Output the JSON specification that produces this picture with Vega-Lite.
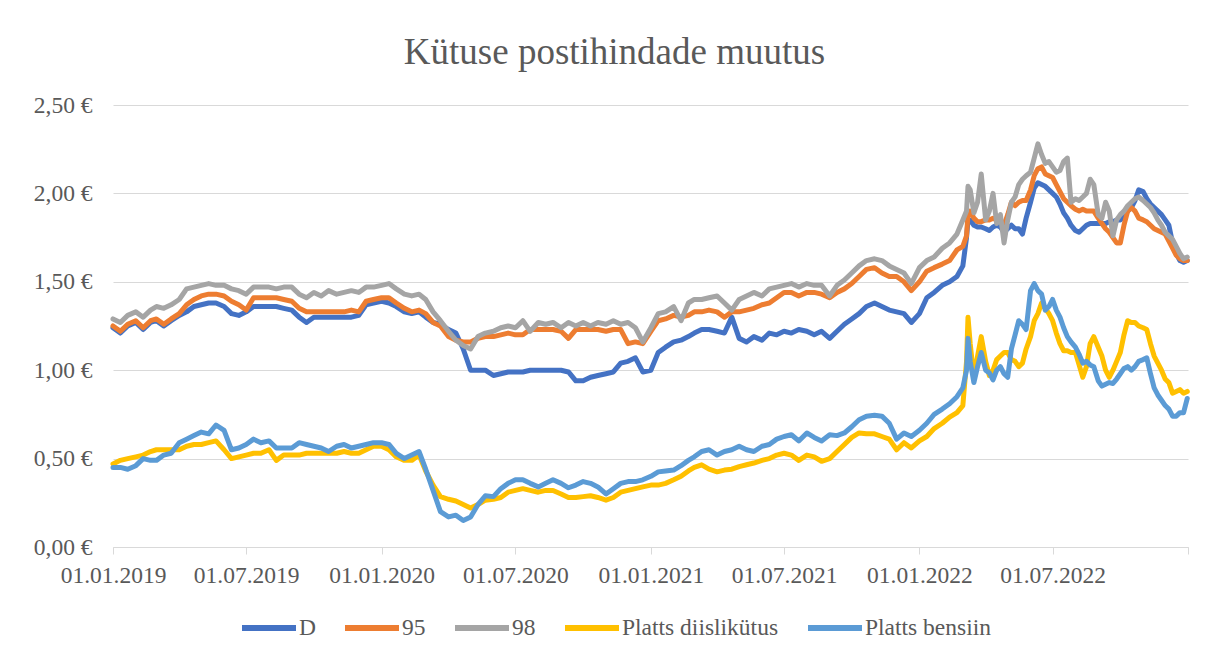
{
"$schema": "https://vega.github.io/schema/vega-lite/v6.json",
"width": 1075, "height": 442,
"autosize": {"type": "none"},
"padding": {"left": 113, "top": 105, "right": 20, "bottom": 110},
"background": "white",
"title": {"text": "Kütuse postihindade muutus", "font": "Liberation Serif", "fontSize": 37, "fontWeight": "normal", "color": "#595959", "anchor": "middle", "frame": "group", "dx": -36, "offset": 21},
"data": {"values": [
{"d":"2019-01-01","D":1.24,"p95":1.25,"p98":1.29,"PD":0.47,"PB":0.45},
{"d":"2019-01-11","D":1.21,"p95":1.22,"p98":1.27,"PD":0.49,"PB":0.45},
{"d":"2019-01-21","D":1.25,"p95":1.26,"p98":1.31,"PD":0.50,"PB":0.44},
{"d":"2019-02-01","D":1.27,"p95":1.28,"p98":1.33,"PD":0.51,"PB":0.46},
{"d":"2019-02-11","D":1.23,"p95":1.24,"p98":1.30,"PD":0.52,"PB":0.50},
{"d":"2019-02-21","D":1.27,"p95":1.28,"p98":1.34,"PD":0.54,"PB":0.49},
{"d":"2019-03-01","D":1.28,"p95":1.29,"p98":1.36,"PD":0.55,"PB":0.49},
{"d":"2019-03-11","D":1.25,"p95":1.26,"p98":1.35,"PD":0.55,"PB":0.52},
{"d":"2019-03-21","D":1.28,"p95":1.29,"p98":1.37,"PD":0.55,"PB":0.53},
{"d":"2019-04-01","D":1.31,"p95":1.32,"p98":1.40,"PD":0.55,"PB":0.59},
{"d":"2019-04-11","D":1.33,"p95":1.37,"p98":1.46,"PD":0.57,"PB":0.61},
{"d":"2019-04-21","D":1.36,"p95":1.40,"p98":1.47,"PD":0.58,"PB":0.63},
{"d":"2019-05-01","D":1.37,"p95":1.42,"p98":1.48,"PD":0.58,"PB":0.65},
{"d":"2019-05-11","D":1.38,"p95":1.43,"p98":1.49,"PD":0.59,"PB":0.64},
{"d":"2019-05-21","D":1.38,"p95":1.43,"p98":1.48,"PD":0.60,"PB":0.69},
{"d":"2019-06-01","D":1.36,"p95":1.42,"p98":1.48,"PD":0.55,"PB":0.66},
{"d":"2019-06-11","D":1.32,"p95":1.39,"p98":1.46,"PD":0.50,"PB":0.55},
{"d":"2019-06-21","D":1.31,"p95":1.37,"p98":1.45,"PD":0.51,"PB":0.56},
{"d":"2019-07-01","D":1.33,"p95":1.34,"p98":1.43,"PD":0.52,"PB":0.58},
{"d":"2019-07-11","D":1.36,"p95":1.41,"p98":1.47,"PD":0.53,"PB":0.61},
{"d":"2019-07-21","D":1.36,"p95":1.41,"p98":1.47,"PD":0.53,"PB":0.59},
{"d":"2019-08-01","D":1.36,"p95":1.41,"p98":1.47,"PD":0.55,"PB":0.60},
{"d":"2019-08-11","D":1.36,"p95":1.41,"p98":1.46,"PD":0.49,"PB":0.56},
{"d":"2019-08-21","D":1.35,"p95":1.40,"p98":1.47,"PD":0.52,"PB":0.56},
{"d":"2019-09-01","D":1.34,"p95":1.39,"p98":1.47,"PD":0.52,"PB":0.56},
{"d":"2019-09-11","D":1.30,"p95":1.35,"p98":1.43,"PD":0.52,"PB":0.59},
{"d":"2019-09-21","D":1.27,"p95":1.33,"p98":1.41,"PD":0.53,"PB":0.58},
{"d":"2019-10-01","D":1.30,"p95":1.33,"p98":1.44,"PD":0.53,"PB":0.57},
{"d":"2019-10-11","D":1.30,"p95":1.33,"p98":1.42,"PD":0.53,"PB":0.56},
{"d":"2019-10-21","D":1.30,"p95":1.33,"p98":1.45,"PD":0.53,"PB":0.54},
{"d":"2019-11-01","D":1.30,"p95":1.33,"p98":1.43,"PD":0.53,"PB":0.57},
{"d":"2019-11-11","D":1.30,"p95":1.33,"p98":1.44,"PD":0.54,"PB":0.58},
{"d":"2019-11-21","D":1.30,"p95":1.34,"p98":1.45,"PD":0.53,"PB":0.56},
{"d":"2019-12-01","D":1.31,"p95":1.33,"p98":1.44,"PD":0.53,"PB":0.57},
{"d":"2019-12-11","D":1.37,"p95":1.39,"p98":1.47,"PD":0.55,"PB":0.58},
{"d":"2019-12-21","D":1.38,"p95":1.40,"p98":1.47,"PD":0.57,"PB":0.59},
{"d":"2020-01-01","D":1.39,"p95":1.41,"p98":1.48,"PD":0.57,"PB":0.59},
{"d":"2020-01-11","D":1.38,"p95":1.41,"p98":1.49,"PD":0.55,"PB":0.58},
{"d":"2020-01-21","D":1.36,"p95":1.38,"p98":1.46,"PD":0.51,"PB":0.53},
{"d":"2020-02-01","D":1.33,"p95":1.35,"p98":1.43,"PD":0.49,"PB":0.50},
{"d":"2020-02-11","D":1.32,"p95":1.33,"p98":1.42,"PD":0.49,"PB":0.52},
{"d":"2020-02-21","D":1.33,"p95":1.34,"p98":1.43,"PD":0.52,"PB":0.54},
{"d":"2020-03-01","D":1.30,"p95":1.32,"p98":1.40,"PD":0.43,"PB":0.44},
{"d":"2020-03-11","D":1.27,"p95":1.27,"p98":1.33,"PD":0.35,"PB":0.32},
{"d":"2020-03-21","D":1.26,"p95":1.25,"p98":1.28,"PD":0.285,"PB":0.20},
{"d":"2020-04-01","D":1.23,"p95":1.19,"p98":1.22,"PD":0.27,"PB":0.17},
{"d":"2020-04-11","D":1.21,"p95":1.17,"p98":1.17,"PD":0.26,"PB":0.18},
{"d":"2020-04-21","D":1.12,"p95":1.16,"p98":1.14,"PD":0.24,"PB":0.15},
{"d":"2020-05-01","D":1.00,"p95":1.16,"p98":1.12,"PD":0.22,"PB":0.17},
{"d":"2020-05-11","D":1.00,"p95":1.18,"p98":1.19,"PD":0.24,"PB":0.24},
{"d":"2020-05-21","D":1.00,"p95":1.19,"p98":1.21,"PD":0.265,"PB":0.29},
{"d":"2020-06-01","D":0.97,"p95":1.19,"p98":1.22,"PD":0.27,"PB":0.285},
{"d":"2020-06-11","D":0.98,"p95":1.20,"p98":1.24,"PD":0.28,"PB":0.33},
{"d":"2020-06-21","D":0.99,"p95":1.21,"p98":1.25,"PD":0.31,"PB":0.36},
{"d":"2020-07-01","D":0.99,"p95":1.20,"p98":1.24,"PD":0.32,"PB":0.38},
{"d":"2020-07-11","D":0.99,"p95":1.20,"p98":1.28,"PD":0.33,"PB":0.38},
{"d":"2020-07-21","D":1.00,"p95":1.23,"p98":1.22,"PD":0.32,"PB":0.36},
{"d":"2020-08-01","D":1.00,"p95":1.23,"p98":1.27,"PD":0.31,"PB":0.34},
{"d":"2020-08-11","D":1.00,"p95":1.23,"p98":1.26,"PD":0.32,"PB":0.36},
{"d":"2020-08-21","D":1.00,"p95":1.23,"p98":1.27,"PD":0.32,"PB":0.38},
{"d":"2020-09-01","D":1.00,"p95":1.22,"p98":1.24,"PD":0.30,"PB":0.36},
{"d":"2020-09-11","D":0.99,"p95":1.18,"p98":1.27,"PD":0.28,"PB":0.335},
{"d":"2020-09-21","D":0.94,"p95":1.23,"p98":1.25,"PD":0.28,"PB":0.35},
{"d":"2020-10-01","D":0.94,"p95":1.23,"p98":1.27,"PD":0.285,"PB":0.37},
{"d":"2020-10-11","D":0.96,"p95":1.23,"p98":1.25,"PD":0.29,"PB":0.36},
{"d":"2020-10-21","D":0.97,"p95":1.23,"p98":1.27,"PD":0.28,"PB":0.34},
{"d":"2020-11-01","D":0.98,"p95":1.22,"p98":1.26,"PD":0.265,"PB":0.30},
{"d":"2020-11-11","D":0.99,"p95":1.23,"p98":1.28,"PD":0.28,"PB":0.33},
{"d":"2020-11-21","D":1.04,"p95":1.23,"p98":1.26,"PD":0.31,"PB":0.36},
{"d":"2020-12-01","D":1.05,"p95":1.15,"p98":1.27,"PD":0.32,"PB":0.37},
{"d":"2020-12-11","D":1.07,"p95":1.16,"p98":1.24,"PD":0.33,"PB":0.37},
{"d":"2020-12-21","D":0.99,"p95":1.15,"p98":1.16,"PD":0.34,"PB":0.38},
{"d":"2021-01-01","D":1.00,"p95":1.22,"p98":1.24,"PD":0.35,"PB":0.40},
{"d":"2021-01-11","D":1.10,"p95":1.28,"p98":1.32,"PD":0.35,"PB":0.425},
{"d":"2021-01-21","D":1.13,"p95":1.29,"p98":1.33,"PD":0.36,"PB":0.43},
{"d":"2021-02-01","D":1.16,"p95":1.31,"p98":1.36,"PD":0.38,"PB":0.435},
{"d":"2021-02-11","D":1.17,"p95":1.30,"p98":1.28,"PD":0.40,"PB":0.46},
{"d":"2021-02-21","D":1.19,"p95":1.31,"p98":1.38,"PD":0.43,"PB":0.49},
{"d":"2021-03-01","D":1.21,"p95":1.33,"p98":1.40,"PD":0.45,"PB":0.51},
{"d":"2021-03-11","D":1.23,"p95":1.33,"p98":1.40,"PD":0.465,"PB":0.54},
{"d":"2021-03-21","D":1.23,"p95":1.34,"p98":1.41,"PD":0.44,"PB":0.55},
{"d":"2021-04-01","D":1.22,"p95":1.33,"p98":1.42,"PD":0.425,"PB":0.52},
{"d":"2021-04-11","D":1.21,"p95":1.30,"p98":1.38,"PD":0.435,"PB":0.54},
{"d":"2021-04-21","D":1.30,"p95":1.33,"p98":1.34,"PD":0.44,"PB":0.55},
{"d":"2021-05-01","D":1.18,"p95":1.33,"p98":1.40,"PD":0.455,"PB":0.57},
{"d":"2021-05-11","D":1.16,"p95":1.34,"p98":1.42,"PD":0.465,"PB":0.55},
{"d":"2021-05-21","D":1.19,"p95":1.35,"p98":1.44,"PD":0.475,"PB":0.54},
{"d":"2021-06-01","D":1.17,"p95":1.37,"p98":1.42,"PD":0.49,"PB":0.57},
{"d":"2021-06-11","D":1.21,"p95":1.38,"p98":1.46,"PD":0.50,"PB":0.58},
{"d":"2021-06-21","D":1.20,"p95":1.41,"p98":1.47,"PD":0.52,"PB":0.61},
{"d":"2021-07-01","D":1.22,"p95":1.44,"p98":1.48,"PD":0.53,"PB":0.625},
{"d":"2021-07-11","D":1.21,"p95":1.44,"p98":1.49,"PD":0.52,"PB":0.635},
{"d":"2021-07-21","D":1.23,"p95":1.42,"p98":1.47,"PD":0.49,"PB":0.60},
{"d":"2021-08-01","D":1.22,"p95":1.44,"p98":1.49,"PD":0.52,"PB":0.645},
{"d":"2021-08-11","D":1.20,"p95":1.44,"p98":1.48,"PD":0.51,"PB":0.62},
{"d":"2021-08-21","D":1.22,"p95":1.43,"p98":1.48,"PD":0.485,"PB":0.60},
{"d":"2021-09-01","D":1.18,"p95":1.41,"p98":1.42,"PD":0.50,"PB":0.635},
{"d":"2021-09-11","D":1.22,"p95":1.44,"p98":1.48,"PD":0.54,"PB":0.63},
{"d":"2021-09-21","D":1.26,"p95":1.46,"p98":1.51,"PD":0.58,"PB":0.645},
{"d":"2021-10-01","D":1.29,"p95":1.49,"p98":1.55,"PD":0.62,"PB":0.68},
{"d":"2021-10-11","D":1.32,"p95":1.53,"p98":1.59,"PD":0.645,"PB":0.72},
{"d":"2021-10-21","D":1.36,"p95":1.57,"p98":1.62,"PD":0.64,"PB":0.74},
{"d":"2021-11-01","D":1.38,"p95":1.58,"p98":1.63,"PD":0.64,"PB":0.745},
{"d":"2021-11-11","D":1.36,"p95":1.55,"p98":1.62,"PD":0.625,"PB":0.74},
{"d":"2021-11-21","D":1.34,"p95":1.53,"p98":1.59,"PD":0.61,"PB":0.70},
{"d":"2021-12-01","D":1.33,"p95":1.53,"p98":1.57,"PD":0.55,"PB":0.61},
{"d":"2021-12-11","D":1.32,"p95":1.50,"p98":1.55,"PD":0.59,"PB":0.645},
{"d":"2021-12-21","D":1.27,"p95":1.45,"p98":1.49,"PD":0.56,"PB":0.625},
{"d":"2022-01-01","D":1.32,"p95":1.50,"p98":1.58,"PD":0.60,"PB":0.66},
{"d":"2022-01-11","D":1.41,"p95":1.56,"p98":1.62,"PD":0.625,"PB":0.70},
{"d":"2022-01-21","D":1.44,"p95":1.58,"p98":1.64,"PD":0.67,"PB":0.75},
{"d":"2022-02-01","D":1.48,"p95":1.60,"p98":1.69,"PD":0.70,"PB":0.78},
{"d":"2022-02-11","D":1.50,"p95":1.62,"p98":1.72,"PD":0.735,"PB":0.81},
{"d":"2022-02-21","D":1.53,"p95":1.68,"p98":1.77,"PD":0.76,"PB":0.85},
{"d":"2022-03-01","D":1.59,"p95":1.70,"p98":1.85,"PD":0.80,"PB":0.90},
{"d":"2022-03-06","D":1.75,"p95":1.76,"p98":1.90,"PD":1.05,"PB":1.00},
{"d":"2022-03-08","D":1.85,"p95":1.88,"p98":2.04,"PD":1.30,"PB":1.18},
{"d":"2022-03-11","D":1.85,"p95":1.90,"p98":2.02,"PD":1.15,"PB":1.05},
{"d":"2022-03-16","D":1.82,"p95":1.86,"p98":1.89,"PD":0.96,"PB":0.93},
{"d":"2022-03-21","D":1.81,"p95":1.84,"p98":1.95,"PD":1.08,"PB":1.02},
{"d":"2022-03-26","D":1.81,"p95":1.84,"p98":2.11,"PD":1.19,"PB":1.10},
{"d":"2022-04-01","D":1.80,"p95":1.85,"p98":1.85,"PD":1.05,"PB":1.00},
{"d":"2022-04-06","D":1.79,"p95":1.85,"p98":1.90,"PD":0.97,"PB":0.985},
{"d":"2022-04-11","D":1.81,"p95":1.86,"p98":2.00,"PD":1.00,"PB":0.945},
{"d":"2022-04-16","D":1.82,"p95":1.85,"p98":1.83,"PD":1.06,"PB":1.00},
{"d":"2022-04-21","D":1.81,"p95":1.85,"p98":1.88,"PD":1.08,"PB":1.02},
{"d":"2022-04-26","D":1.78,"p95":1.82,"p98":1.72,"PD":1.10,"PB":0.98},
{"d":"2022-05-01","D":1.80,"p95":1.88,"p98":1.85,"PD":1.10,"PB":0.96},
{"d":"2022-05-06","D":1.82,"p95":1.95,"p98":1.95,"PD":1.06,"PB":1.12},
{"d":"2022-05-11","D":1.80,"p95":1.93,"p98":1.98,"PD":1.05,"PB":1.20},
{"d":"2022-05-16","D":1.80,"p95":1.95,"p98":2.05,"PD":1.02,"PB":1.28},
{"d":"2022-05-21","D":1.77,"p95":1.96,"p98":2.08,"PD":1.04,"PB":1.26},
{"d":"2022-05-26","D":1.86,"p95":1.96,"p98":2.10,"PD":1.12,"PB":1.23},
{"d":"2022-06-01","D":1.95,"p95":2.02,"p98":2.12,"PD":1.19,"PB":1.45},
{"d":"2022-06-06","D":2.03,"p95":2.10,"p98":2.20,"PD":1.28,"PB":1.49},
{"d":"2022-06-11","D":2.06,"p95":2.14,"p98":2.28,"PD":1.32,"PB":1.45},
{"d":"2022-06-16","D":2.05,"p95":2.15,"p98":2.22,"PD":1.38,"PB":1.43},
{"d":"2022-06-21","D":2.04,"p95":2.11,"p98":2.17,"PD":1.35,"PB":1.34},
{"d":"2022-06-26","D":2.02,"p95":2.10,"p98":2.18,"PD":1.32,"PB":1.36},
{"d":"2022-07-01","D":2.00,"p95":2.09,"p98":2.15,"PD":1.28,"PB":1.40},
{"d":"2022-07-06","D":1.98,"p95":2.05,"p98":2.12,"PD":1.21,"PB":1.34},
{"d":"2022-07-11","D":1.94,"p95":2.01,"p98":2.13,"PD":1.15,"PB":1.30},
{"d":"2022-07-16","D":1.89,"p95":1.97,"p98":2.18,"PD":1.11,"PB":1.24},
{"d":"2022-07-21","D":1.86,"p95":1.95,"p98":2.20,"PD":1.11,"PB":1.19},
{"d":"2022-07-26","D":1.82,"p95":1.93,"p98":1.95,"PD":1.10,"PB":1.16},
{"d":"2022-08-01","D":1.79,"p95":1.91,"p98":1.97,"PD":1.10,"PB":1.13},
{"d":"2022-08-06","D":1.78,"p95":1.90,"p98":1.96,"PD":1.03,"PB":1.09},
{"d":"2022-08-11","D":1.80,"p95":1.91,"p98":1.98,"PD":0.96,"PB":1.04},
{"d":"2022-08-16","D":1.82,"p95":1.90,"p98":2.00,"PD":1.02,"PB":1.05},
{"d":"2022-08-21","D":1.83,"p95":1.90,"p98":2.08,"PD":1.15,"PB":1.03},
{"d":"2022-08-26","D":1.83,"p95":1.90,"p98":2.05,"PD":1.19,"PB":1.02},
{"d":"2022-09-01","D":1.83,"p95":1.86,"p98":1.88,"PD":1.13,"PB":0.94},
{"d":"2022-09-06","D":1.83,"p95":1.83,"p98":1.86,"PD":1.08,"PB":0.91},
{"d":"2022-09-11","D":1.83,"p95":1.80,"p98":1.95,"PD":1.00,"PB":0.92},
{"d":"2022-09-16","D":1.84,"p95":1.78,"p98":1.90,"PD":0.96,"PB":0.93},
{"d":"2022-09-21","D":1.84,"p95":1.75,"p98":1.76,"PD":1.00,"PB":0.925},
{"d":"2022-09-26","D":1.85,"p95":1.72,"p98":1.85,"PD":1.05,"PB":0.95},
{"d":"2022-10-01","D":1.85,"p95":1.72,"p98":1.88,"PD":1.10,"PB":0.98},
{"d":"2022-10-06","D":1.87,"p95":1.82,"p98":1.90,"PD":1.20,"PB":1.01},
{"d":"2022-10-11","D":1.90,"p95":1.90,"p98":1.93,"PD":1.28,"PB":1.02},
{"d":"2022-10-16","D":1.92,"p95":1.92,"p98":1.95,"PD":1.27,"PB":1.00},
{"d":"2022-10-21","D":1.96,"p95":1.90,"p98":1.97,"PD":1.27,"PB":1.02},
{"d":"2022-10-26","D":2.02,"p95":1.86,"p98":1.98,"PD":1.25,"PB":1.05},
{"d":"2022-11-01","D":2.01,"p95":1.85,"p98":1.96,"PD":1.24,"PB":1.06},
{"d":"2022-11-06","D":1.97,"p95":1.84,"p98":1.94,"PD":1.23,"PB":1.07},
{"d":"2022-11-11","D":1.94,"p95":1.82,"p98":1.92,"PD":1.15,"PB":0.98},
{"d":"2022-11-16","D":1.92,"p95":1.80,"p98":1.89,"PD":1.08,"PB":0.90},
{"d":"2022-11-21","D":1.90,"p95":1.79,"p98":1.85,"PD":1.04,"PB":0.86},
{"d":"2022-11-26","D":1.88,"p95":1.78,"p98":1.82,"PD":1.00,"PB":0.83},
{"d":"2022-12-01","D":1.85,"p95":1.77,"p98":1.78,"PD":0.95,"PB":0.80},
{"d":"2022-12-06","D":1.82,"p95":1.73,"p98":1.76,"PD":0.93,"PB":0.78},
{"d":"2022-12-11","D":1.72,"p95":1.69,"p98":1.74,"PD":0.87,"PB":0.74},
{"d":"2022-12-16","D":1.66,"p95":1.65,"p98":1.70,"PD":0.88,"PB":0.74},
{"d":"2022-12-21","D":1.62,"p95":1.63,"p98":1.66,"PD":0.89,"PB":0.76},
{"d":"2022-12-26","D":1.61,"p95":1.62,"p98":1.63,"PD":0.87,"PB":0.76},
{"d":"2022-12-31","D":1.62,"p95":1.62,"p98":1.64,"PD":0.88,"PB":0.84}
]},
"transform": [{"fold": ["D", "p95", "p98", "PD", "PB"], "as": ["series", "value"]}],
"mark": {"type": "line", "strokeWidth": 5, "strokeCap": "round", "strokeJoin": "round"},
"encoding": {
  "x": {"field": "d", "type": "temporal",
    "scale": {"type": "utc", "domain": [{"year": 2019, "month": 1, "date": 1, "utc": true}, {"year": 2023, "month": 1, "date": 1, "utc": true}]},
    "axis": {"title": null, "grid": false,
      "values": [{"year": 2019, "month": 1, "date": 1, "utc": true}, {"year": 2019, "month": 7, "date": 1, "utc": true}, {"year": 2020, "month": 1, "date": 1, "utc": true}, {"year": 2020, "month": 7, "date": 1, "utc": true}, {"year": 2021, "month": 1, "date": 1, "utc": true}, {"year": 2021, "month": 7, "date": 1, "utc": true}, {"year": 2022, "month": 1, "date": 1, "utc": true}, {"year": 2022, "month": 7, "date": 1, "utc": true}, {"year": 2023, "month": 1, "date": 1, "utc": true}],
      "labelExpr": "utcFormat(datum.value, '%Y') == '2023' ? '' : utcFormat(datum.value, '%d.%m.%Y')",
      "domainColor": "#D9D9D9", "domainWidth": 1, "tickColor": "#D9D9D9", "tickSize": 7, "tickWidth": 1,
      "labelFont": "Liberation Serif", "labelFontSize": 23.5, "labelColor": "#595959", "labelPadding": 9,
      "labelFlush": false, "labelOverlap": false}},
  "y": {"field": "value", "type": "quantitative",
    "scale": {"domain": [0, 2.5], "nice": false},
    "axis": {"title": null, "values": [0, 0.5, 1, 1.5, 2, 2.5],
      "labelExpr": "replace(format(datum.value, '.2f'), '.', ',') + ' €'",
      "domain": false, "ticks": false, "tickSize": 0, "gridColor": "#D9D9D9", "gridWidth": 1,
      "labelFont": "Liberation Serif", "labelFontSize": 23.5, "labelColor": "#595959", "labelPadding": 21}},
  "color": {"field": "series", "type": "nominal",
    "scale": {"domain": ["D", "p95", "p98", "PD", "PB"], "range": ["#4472C4", "#ED7D31", "#A5A5A5", "#FFC000", "#5B9BD5"]},
    "legend": {"title": null, "orient": "none", "legendX": 126, "legendY": 493, "direction": "horizontal",
      "symbolType": "stroke", "symbolSize": 2916, "symbolStrokeWidth": 6,
      "labelFont": "Liberation Serif", "labelFontSize": 23.5, "labelColor": "#595959", "labelOffset": 0, "columnPadding": 17,
      "labelExpr": "datum.value == 'p95' ? '95' : datum.value == 'p98' ? '98' : datum.value == 'PD' ? 'Platts diislikütus' : datum.value == 'PB' ? 'Platts bensiin' : 'D'"}}
},
"config": {"view": {"stroke": null}, "font": "Liberation Serif"}
}
